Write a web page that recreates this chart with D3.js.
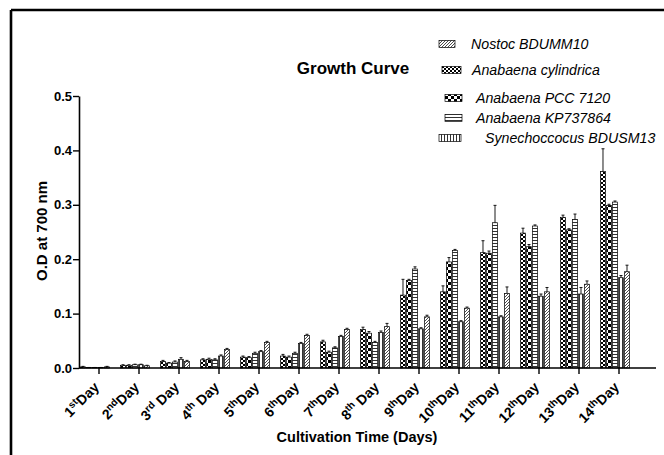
<!DOCTYPE html>
<html>
<head>
<meta charset="utf-8">
<script src="https://cdn.jsdelivr.net/npm/d3@7"></script>
<style>
	body { margin: 0; background: #ffffff; }
	svg { display: block; font-family: "Liberation Sans", Arial, sans-serif; }
</style>
</head>
<body>
<svg id="chart" width="664" height="455"></svg>
<script>
// Days on the x axis: number, superscript, rest of label.
var days = ["1", "2", "3", "4", "5", "6", "7", "8", "9", "10", "11", "12", "13", "14"];
var day_sups = ["st", "nd", "rd", "th", "th", "th", "th", "th", "th", "th", "th", "th", "th", "th"];
var day_tails = ["Day", "Day", " Day", " Day", "Day", "Day", "Day", " Day", "Day", "Day", "Day", "Day", "Day", "Day"];

var y_ticks = [0.0, 0.1, 0.2, 0.3, 0.4, 0.5];

// Legend order.
var series_names = ["Nostoc BDUMM10", "Anabaena cylindrica", "Anabaena PCC 7120", "Anabaena KP737864", "Synechoccocus BDUSM13"];
var series_keys = ["nostoc", "cylindrica", "pcc", "kp", "syn"];
// Order of the bars inside each day.
var bar_order = ["cylindrica", "pcc", "kp", "syn", "nostoc"];

var cylindrica = [0.002, 0.005, 0.012, 0.015, 0.020, 0.022, 0.048, 0.071, 0.134, 0.140, 0.212, 0.248, 0.277, 0.361];
var cylindrica_err = [0.001, 0.001, 0.002, 0.002, 0.002, 0.003, 0.003, 0.004, 0.029, 0.011, 0.022, 0.009, 0.004, 0.042];
var pcc = [0.001, 0.005, 0.009, 0.016, 0.019, 0.020, 0.029, 0.064, 0.161, 0.195, 0.211, 0.223, 0.254, 0.299];
var pcc_err = [0.000, 0.001, 0.001, 0.002, 0.002, 0.002, 0.002, 0.003, 0.002, 0.008, 0.004, 0.004, 0.002, 0.002];
var kp = [0.001, 0.006, 0.011, 0.015, 0.027, 0.027, 0.037, 0.047, 0.182, 0.216, 0.267, 0.261, 0.273, 0.305];
var kp_err = [0.000, 0.001, 0.002, 0.002, 0.002, 0.002, 0.002, 0.002, 0.004, 0.002, 0.032, 0.002, 0.010, 0.002];
var syn = [0.001, 0.006, 0.016, 0.022, 0.030, 0.045, 0.058, 0.065, 0.072, 0.085, 0.094, 0.132, 0.136, 0.166];
var syn_err = [0.000, 0.001, 0.003, 0.002, 0.002, 0.002, 0.002, 0.003, 0.002, 0.002, 0.002, 0.004, 0.012, 0.004];
var nostoc = [0.002, 0.004, 0.012, 0.034, 0.047, 0.060, 0.071, 0.076, 0.094, 0.110, 0.137, 0.140, 0.154, 0.177];
var nostoc_err = [0.001, 0.001, 0.002, 0.002, 0.002, 0.002, 0.002, 0.006, 0.003, 0.002, 0.012, 0.008, 0.006, 0.012];

var values = {"cylindrica": cylindrica, "pcc": pcc, "kp": kp, "syn": syn, "nostoc": nostoc};
var errors = {"cylindrica": cylindrica_err, "pcc": pcc_err, "kp": kp_err, "syn": syn_err, "nostoc": nostoc_err};

var svg = d3.select("#chart");

// Fill patterns, one per strain.
var defs = svg.append("defs");

function add_pattern(id, w, h, draw)
{
	var p = defs.append("pattern")
		.attr("id", id)
		.attr("patternUnits", "userSpaceOnUse")
		.attr("width", w)
		.attr("height", h);
	p.append("rect").attr("width", w).attr("height", h).attr("fill", "#ffffff");
	draw(p);
}

add_pattern("pat_cylindrica", 4, 4, function(p) {
	p.append("rect").attr("x", 0).attr("y", 0).attr("width", 2).attr("height", 2).attr("fill", "#000");
	p.append("rect").attr("x", 2).attr("y", 2).attr("width", 2).attr("height", 2).attr("fill", "#000");
});
add_pattern("pat_pcc", 6, 6, function(p) {
	p.append("rect").attr("x", 1).attr("y", 0).attr("width", 3).attr("height", 3).attr("fill", "#000");
	p.append("rect").attr("x", 4).attr("y", 3).attr("width", 3).attr("height", 3).attr("fill", "#000");
	p.append("rect").attr("x", -2).attr("y", 3).attr("width", 3).attr("height", 3).attr("fill", "#000");
});
add_pattern("pat_kp", 3, 3, function(p) {
	p.append("rect").attr("x", 0).attr("y", 0).attr("width", 3).attr("height", 0.8).attr("fill", "#000");
});
add_pattern("pat_syn", 3, 3, function(p) {
	p.append("rect").attr("x", 0).attr("y", 0).attr("width", 0.8).attr("height", 3).attr("fill", "#000");
});
add_pattern("pat_nostoc", 3, 3, function(p) {
	p.append("path")
		.attr("d", "M-1,1 L1,-1 M0,3 L3,0 M2,4 L4,2")
		.attr("stroke", "#000")
		.attr("stroke-width", 0.7);
});

// Outer frame (top and left edges only show).
svg.append("line").attr("x1", 11).attr("y1", 10).attr("x2", 664).attr("y2", 10)
	.attr("stroke", "#000").attr("stroke-width", 2.6);
svg.append("line").attr("x1", 11).attr("y1", 10).attr("x2", 11).attr("y2", 455)
	.attr("stroke", "#000").attr("stroke-width", 2.6);

var x0 = d3.scaleBand().domain(days).range([79, 639]).padding(0);
var x1 = d3.scaleBand().domain(bar_order).range([-18.5, 10.5]).paddingInner(0.17);
var y = d3.scaleLinear().domain([0, 0.5]).range([368, 96]);

// Bars.
var groups = svg.append("g").selectAll("g")
	.data(days)
	.join("g")
	.attr("transform", function(d) { return "translate(" + (x0(d) + x0.bandwidth() / 2) + ",0)"; });

var bar_data = function(d, i)
{
	return bar_order.map(function(key) {
		return {"key": key, "value": values[key][i], "err": errors[key][i]};
	});
};

groups.each(function(d, i)
{
	var g = d3.select(this);
	var items = bar_data(d, i);
	g.selectAll("rect")
		.data(items)
		.join("rect")
		.attr("x", function(b) { return x1(b.key); })
		.attr("y", function(b) { return y(b.value); })
		.attr("width", x1.bandwidth())
		.attr("height", function(b) { return y(0) - y(b.value); })
		.attr("fill", function(b) { return "url(#pat_" + b.key + ")"; })
		.attr("stroke", "#000")
		.attr("stroke-width", 0.7);

	// Upper error bars.
	g.selectAll("path.err")
		.data(items)
		.join("path")
		.attr("class", "err")
		.attr("d", function(b) {
			var cx = x1(b.key) + x1.bandwidth() / 2;
			var top = y(b.value + b.err);
			return "M" + cx + "," + y(b.value) + "V" + top + "M" + (cx - 1.5) + "," + top + "H" + (cx + 1.5);
		})
		.attr("fill", "none")
		.attr("stroke", "#000")
		.attr("stroke-width", 0.9);
});

// Y axis.
var y_axis = svg.append("g")
	.attr("transform", "translate(79,0)")
	.call(d3.axisLeft(y).tickValues(y_ticks).tickFormat(d3.format(".1f")).tickSize(6).tickSizeOuter(0));
y_axis.select(".domain").attr("stroke-width", 1.6);
y_axis.selectAll(".tick line").attr("stroke-width", 1.4);
y_axis.selectAll(".tick text")
	.attr("font-size", "13px")
	.attr("font-weight", "bold")
	.attr("font-family", "Liberation Sans, Arial, sans-serif")
	.attr("x", -7);

// X axis.
var x_axis = svg.append("g")
	.attr("transform", "translate(0,368)")
	.call(d3.axisBottom(x0).tickSize(6).tickSizeOuter(0).tickFormat(""));
x_axis.select(".domain").attr("d", "M79,0H656").attr("stroke-width", 1.6);
x_axis.selectAll(".tick line").attr("stroke-width", 1.4);

var x_labels = svg.append("g").selectAll("text")
	.data(days)
	.join("text")
	.attr("text-anchor", "end")
	.attr("font-size", "14px")
	.attr("font-weight", "bold")
	.attr("transform", function(d) {
		return "translate(" + (x0(d) + x0.bandwidth() / 2 + 1) + ",388) rotate(-45)";
	});
x_labels.each(function(d, i)
{
	var t = d3.select(this);
	t.append("tspan").text(d);
	t.append("tspan").attr("font-size", "10px").attr("dy", -5).text(day_sups[i]);
	t.append("tspan").attr("dy", 5).text(day_tails[i]);
});

// Axis titles.
svg.append("text")
	.attr("transform", "translate(47,231) rotate(-90)")
	.attr("text-anchor", "middle")
	.attr("font-size", "15px")
	.attr("font-weight", "bold")
	.text("O.D at 700 nm");

svg.append("text")
	.attr("x", 357)
	.attr("y", 442)
	.attr("text-anchor", "middle")
	.attr("font-size", "14.5px")
	.attr("font-weight", "bold")
	.text("Cultivation Time (Days)");

svg.append("text")
	.attr("x", 353)
	.attr("y", 74)
	.attr("text-anchor", "middle")
	.attr("font-size", "17px")
	.attr("font-weight", "bold")
	.text("Growth Curve");

// Legend, rows are not evenly spaced in the original.
var legend_rows = [
	{"y": 44, "sx": 439, "sw": 16, "tx": 471},
	{"y": 70, "sx": 442, "sw": 19, "tx": 472},
	{"y": 98, "sx": 445, "sw": 17, "tx": 476},
	{"y": 118, "sx": 445, "sw": 17, "tx": 476},
	{"y": 138, "sx": 439, "sw": 22, "tx": 485}
];

var legend = svg.append("g").selectAll("g")
	.data(series_keys)
	.join("g");
legend.append("rect")
	.attr("x", function(d, i) { return legend_rows[i].sx; })
	.attr("y", function(d, i) { return legend_rows[i].y - 3.5; })
	.attr("width", function(d, i) { return legend_rows[i].sw; })
	.attr("height", 7)
	.attr("fill", function(d) { return "url(#pat_" + d + ")"; })
	.attr("stroke", "#000")
	.attr("stroke-width", 0.7);
legend.append("text")
	.attr("x", function(d, i) { return legend_rows[i].tx; })
	.attr("y", function(d, i) { return legend_rows[i].y + 5; })
	.attr("font-size", "14.2px")
	.attr("font-style", "italic")
	.text(function(d, i) { return series_names[i]; });
</script>
</body>
</html>
